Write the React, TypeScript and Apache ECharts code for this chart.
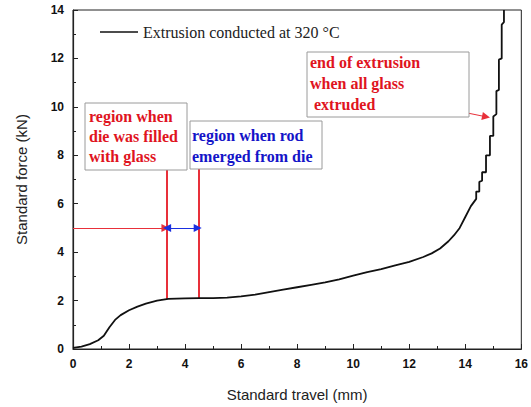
import React, { useEffect, useRef } from "react";
import * as echarts from "echarts";

const seriesName = "Extrusion conducted at 320 °C";

const travel = [
  0, 0.3, 0.6, 0.9, 1.1, 1.3, 1.5, 1.7, 2.0, 2.3, 2.6, 3.0, 3.4, 4.0, 4.5, 5.0, 5.5, 6.0, 6.5,
  7.0, 7.5, 8.0, 8.5, 9.0, 9.5, 10.0, 10.5, 11.0, 11.5, 12.0, 12.5, 12.8, 13.1, 13.4, 13.6,
  13.8, 14.0, 14.2, 14.39, 14.39, 14.5, 14.5, 14.6, 14.6, 14.74, 14.74, 14.88, 14.88, 15.0,
  15.0, 15.11, 15.11, 15.2, 15.2, 15.3, 15.3, 15.38, 15.38,
];
const force = [
  0.05, 0.1, 0.2, 0.36, 0.55, 0.9, 1.2, 1.4, 1.6, 1.75, 1.87, 2.0, 2.07, 2.09, 2.1, 2.1, 2.12,
  2.17, 2.25, 2.35, 2.45, 2.55, 2.65, 2.75, 2.88, 3.03, 3.17, 3.3, 3.45, 3.6, 3.8, 3.95, 4.15,
  4.45, 4.7, 5.0, 5.45, 5.9, 6.2, 6.5, 6.5, 6.9, 6.95, 7.3, 7.3, 8.0, 8.0, 8.8, 8.8, 9.6, 9.7,
  10.65, 10.7, 11.95, 12.0, 13.4, 13.5, 14.0,
];

const xTicks = { min: 0, max: 16, interval: 2 };
const yTicks = { min: 0, max: 14, interval: 2 };

// annotation anchors (data coordinates)
const fillEndX = 3.33;
const emergeX = 4.48;
const arrowY = 5.0;
const boxBottomY = 7.43;
const endArrowFrom = [12.57, 10.1];
const endArrowTo = [14.74, 9.59];

export default function App() {
  const ref = useRef<HTMLDivElement>(null);
  useEffect(() => {
    if (!ref.current) return;
    const chart = echarts.init(ref.current, null, { renderer: "svg" });
    const axisColor = "#222";
    const labelFont = {
      color: "#111",
      fontFamily: "Liberation Sans, Arial, sans-serif",
      fontWeight: "bold" as const,
      fontSize: 12,
    };
    const data = travel.map((x, i) => [x, force[i]]);
    const red = "#e8303a";
    const blue = "#1a2fe0";
    chart.setOption({
      animation: false,
      backgroundColor: "#fff",
      grid: {
        left: 73,
        right: 2,
        top: 10,
        bottom: 56,
        show: true,
        borderColor: axisColor,
        borderWidth: 1,
        backgroundColor: "transparent",
      },
      legend: {
        data: [seriesName],
        left: 100,
        top: 24,
        padding: 0,
        icon: "rect",
        itemWidth: 38,
        itemHeight: 1.5,
        textStyle: {
          fontFamily: "Liberation Serif, Times New Roman, serif",
          fontSize: 16,
          color: "#222",
        },
      },
      xAxis: {
        type: "value",
        ...xTicks,
        name: "Standard travel (mm)",
        nameLocation: "middle",
        nameGap: 38,
        nameTextStyle: {
          fontFamily: "Liberation Sans, Arial, sans-serif",
          fontSize: 15,
          color: "#222",
        },
        axisLine: { lineStyle: { color: axisColor, width: 1.2 } },
        axisTick: { inside: true, length: 5, lineStyle: { color: axisColor } },
        minorTick: { show: true, splitNumber: 2, length: 3, lineStyle: { color: axisColor } },
        splitLine: { show: false },
        axisLabel: { ...labelFont, margin: 9 },
      },
      yAxis: {
        type: "value",
        ...yTicks,
        name: "Standard force (kN)",
        nameLocation: "middle",
        nameGap: 44,
        nameTextStyle: {
          fontFamily: "Liberation Sans, Arial, sans-serif",
          fontSize: 15,
          color: "#222",
        },
        axisLine: { lineStyle: { color: axisColor, width: 1.2 } },
        axisTick: { inside: true, length: 5, lineStyle: { color: axisColor } },
        minorTick: { show: true, splitNumber: 2, length: 3, lineStyle: { color: axisColor } },
        splitLine: { show: false },
        axisLabel: { ...labelFont, margin: 9 },
      },
      series: [
        {
          name: seriesName,
          type: "line",
          data,
          showSymbol: false,
          symbol: "none",
          color: "#111",
          lineStyle: { color: "#111", width: 1.8 },
          z: 5,
          markLine: {
            silent: true,
            symbol: ["none", "none"],
            label: { show: false },
            data: [
              [
                { coord: [fillEndX, 2.07], lineStyle: { color: red, width: 2, type: "solid" } },
                { coord: [fillEndX, boxBottomY] },
              ],
              [
                { coord: [emergeX, 2.1], lineStyle: { color: red, width: 2, type: "solid" } },
                { coord: [emergeX, boxBottomY] },
              ],
              [
                {
                  coord: [0, arrowY],
                  symbol: "none",
                  lineStyle: { color: red, width: 1, type: "solid" },
                },
                { coord: [fillEndX - 0.03, arrowY], symbol: "triangle", symbolSize: [8, 8] },
              ],
              [
                {
                  coord: [fillEndX + 0.03, arrowY],
                  symbol: "triangle",
                  symbolSize: [8, 8],
                  lineStyle: { color: blue, width: 1, type: "solid" },
                },
                { coord: [emergeX - 0.03, arrowY], symbol: "triangle", symbolSize: [8, 8] },
              ],
              [
                {
                  coord: endArrowFrom,
                  symbol: "none",
                  lineStyle: { color: red, width: 1, type: "solid" },
                },
                { coord: endArrowTo, symbol: "triangle", symbolSize: [8, 8] },
              ],
            ],
          },
        },
      ],
      graphic: [
        {
          type: "rect",
          shape: { x: 85, y: 103, width: 102, height: 67 },
          style: { fill: "#fff", stroke: "#9a9a9a", lineWidth: 1 },
          z: 10,
        },
        {
          type: "text",
          x: 89,
          y: 106,
          z: 11,
          style: {
            text: "region when\ndie was filled\nwith glass",
            font: 'bold 16px "Liberation Serif", "Times New Roman", serif',
            fill: "#e0141e",
            lineHeight: 20,
          },
        },
        {
          type: "rect",
          shape: { x: 190, y: 121, width: 132, height: 48 },
          style: { fill: "#fff", stroke: "#9a9a9a", lineWidth: 1 },
          z: 10,
        },
        {
          type: "text",
          x: 192,
          y: 125,
          z: 11,
          style: {
            text: "region when rod\nemerged from die",
            font: 'bold 16px "Liberation Serif", "Times New Roman", serif',
            fill: "#1414c8",
            lineHeight: 21,
          },
        },
        {
          type: "rect",
          shape: { x: 307, y: 52, width: 162, height: 65 },
          style: { fill: "#fff", stroke: "#9a9a9a", lineWidth: 1 },
          z: 10,
        },
        {
          type: "text",
          x: 310,
          y: 52,
          z: 11,
          style: {
            text: "end of extrusion\nwhen all glass\n extruded",
            font: 'bold 16px "Liberation Serif", "Times New Roman", serif',
            fill: "#e0141e",
            lineHeight: 21,
          },
        },
      ],
    });
    return () => chart.dispose();
  }, []);
  return <div ref={ref} style={{ width: 531, height: 407, position: "absolute", left: 0, top: 0 }} />;
}
